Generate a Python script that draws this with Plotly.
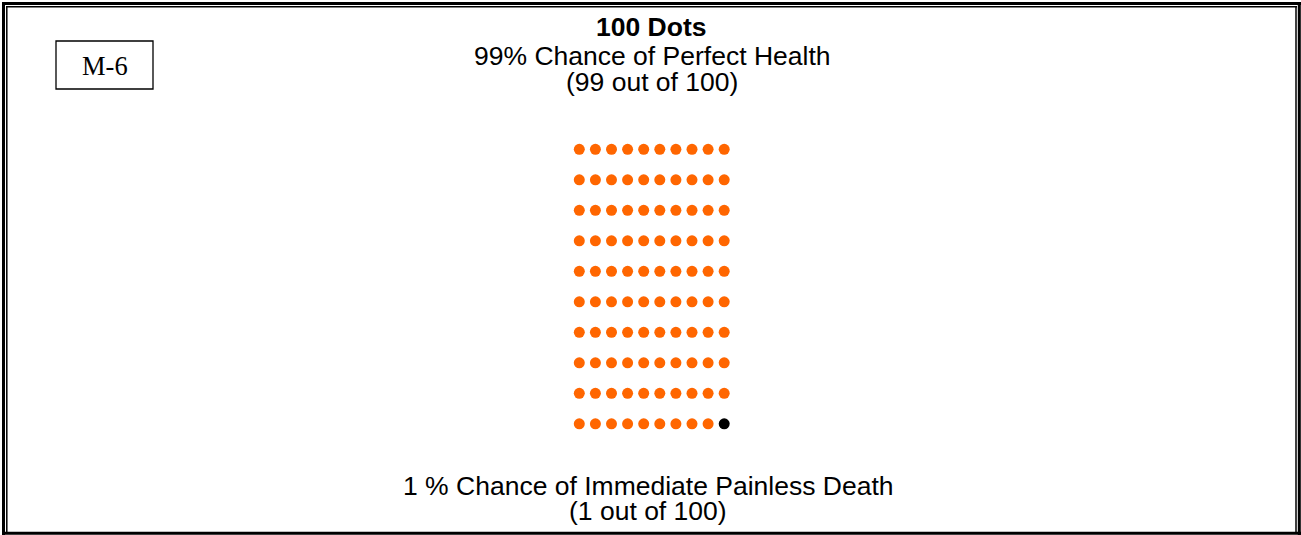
import plotly.graph_objects as go

# ---- data ----
outcomes = ["Perfect Health", "Immediate Painless Death"]
counts = [99, 1]
outcome_colors = ["#FF6600", "#000000"]
n_cols = 10
title_text = "<b>100 Dots</b>"
top_lines = ["99% Chance of Perfect Health", "(99 out of 100)"]
bottom_lines = ["1 % Chance of Immediate Painless Death", "(1 out of 100)"]
label_text = "M-6"

W, H = 1301, 535

fig = go.Figure()

# build dot grid from counts
idx = 0
for name, cnt, col in zip(outcomes, counts, outcome_colors):
    xs, ys = [], []
    for _ in range(cnt):
        xs.append(idx % n_cols)
        ys.append(idx // n_cols)
        idx += 1
    fig.add_trace(go.Scatter(x=xs, y=ys, mode="markers", name=name,
                             marker=dict(size=11, color=col, line=dict(width=0)),
                             hoverinfo="skip"))

# axes mapped so that column 0 -> 579.3 px, spacing 16.1 px; row 0 -> 149.3 px, spacing 30.5 px
x0, dx = 579.3, 16.1
y0, dy = 149.3, 30.5
fig.update_xaxes(range=[-x0 / dx, (W - x0) / dx], visible=False, fixedrange=True)
fig.update_yaxes(range=[(H - y0) / dy, -y0 / dy], visible=False, fixedrange=True)

def px(x):
    return x / W

def py(y):
    return 1 - y / H

shapes = []
def line(xa, ya, xb, yb, w):
    shapes.append(dict(type="line", xref="paper", yref="paper",
                       x0=px(xa), y0=py(ya), x1=px(xb), y1=py(yb),
                       line=dict(color="black", width=w)))

# outer thick frame
line(3.5, 2, 3.5, 535, 3)
line(2, 3.5, 1301, 3.5, 3)
line(1299.3, 2, 1299.3, 535, 3)
line(2, 533.3, 1301, 533.3, 3)
# inner thin frame
line(6.8, 6, 6.8, 532, 1.5)
line(6, 6.8, 1297, 6.8, 1.5)
line(1296, 6, 1296, 532, 1.5)

# label box
shapes.append(dict(type="rect", xref="paper", yref="paper",
                   x0=px(56), y0=py(89), x1=px(153), y1=py(41),
                   line=dict(color="black", width=1.3)))

annotations = []
def text(t, x, y, size=26.5, family="Liberation Sans, Arial, sans-serif"):
    annotations.append(dict(text=t, xref="paper", yref="paper", x=px(x), y=py(y),
                            xanchor="center", yanchor="middle", showarrow=False,
                            font=dict(family=family, size=size, color="black")))

text(title_text, 651, 27)
text(top_lines[0], 651.5, 56)
text(top_lines[1], 651.5, 81.5)
text(bottom_lines[0], 648, 486)
text(bottom_lines[1], 648, 510.5)
text(label_text, 104.5, 66, family="Liberation Serif, Times New Roman, serif")

fig.update_layout(width=W, height=H, margin=dict(l=0, r=0, t=0, b=0),
                  paper_bgcolor="white", plot_bgcolor="white",
                  showlegend=False, shapes=shapes, annotations=annotations)

fig.write_html("out.html", config={"displayModeBar": False},
               post_script="document.body.style.margin='0';document.body.style.overflow='hidden';")
